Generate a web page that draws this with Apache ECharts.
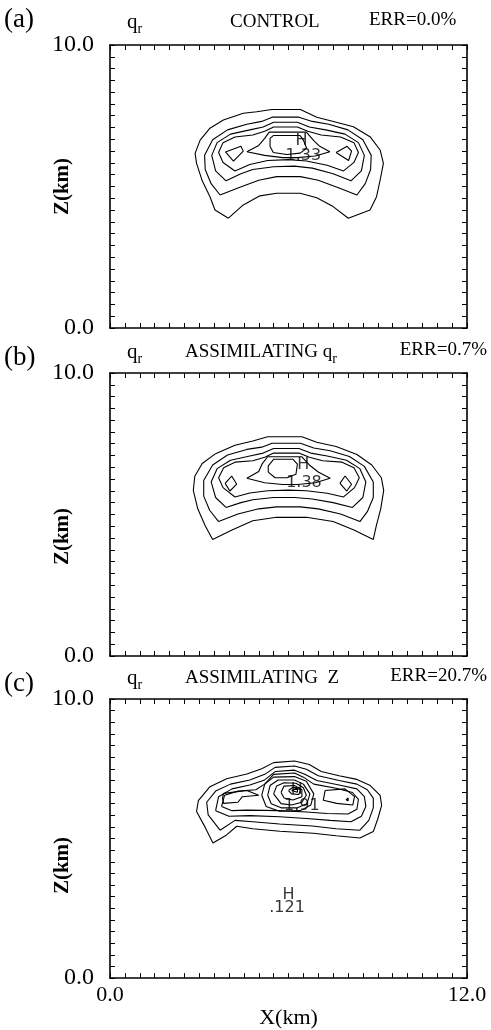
<!DOCTYPE html>
<html><head><meta charset="utf-8">
<script src="https://cdn.jsdelivr.net/npm/echarts@6/dist/echarts.min.js"></script>
<style>html,body{margin:0;padding:0;background:#fff}#c{width:491px;height:1030px}</style>
</head><body><div id="c"></div>
<script>
// ---------- data (x in km, z in km) ----------
const X_RANGE = [0, 12];
const Z_RANGE = [0, 10];
const X_TICK_STEP = 0.5;
const Z_TICK_STEP = 10 / 24;
const X_TICK_LABELS = ['0.0', '12.0'];
const Z_TICK_LABELS = ['0.0', '10.0'];

const PANEL_LETTERS = ['(a)', '(b)', '(c)'];
const PANEL_TITLES = ['CONTROL', 'ASSIMILATING q', 'ASSIMILATING  Z'];
const PANEL_TITLE_SUB = ['', 'r', ''];
const PANEL_ERR = ['ERR=0.0%', 'ERR=0.7%', 'ERR=20.7%'];

// Panel (a) CONTROL contours
const A_C1 = [[3.98,3.88],[3.53,4.17],[3.36,4.64],[3.1,5.2],[2.91,5.82],[2.86,6.17],[3.03,6.64],[3.36,7.06],[3.81,7.35],[4.48,7.59],[4.93,7.64],[5.44,7.72],[6.4,7.72],[6.95,7.45],[7.51,7.3],[8.18,7.11],[8.74,6.76],[9.08,6.29],[9.19,5.82],[9.08,5.23],[8.96,4.64],[8.74,4.17],[8.01,3.88],[7.5,4.29],[6.95,4.6],[6.39,4.76],[5.6,4.76],[5.04,4.67],[4.48,4.35],[3.98,3.88]];
const A_C2 = [[3.7,4.7],[3.4,5.1],[3.2,5.6],[3.18,6.1],[3.45,6.65],[3.95,7.0],[4.6,7.2],[5.1,7.3],[5.45,7.45],[6.35,7.45],[6.8,7.3],[7.35,7.2],[8.0,7.0],[8.5,6.65],[8.78,6.1],[8.76,5.6],[8.58,5.1],[8.3,4.7],[7.7,4.95],[7.0,5.22],[6.4,5.35],[5.6,5.35],[5.0,5.22],[4.3,4.95],[3.7,4.7]];
const A_C3 = [[3.9,5.2],[3.55,5.55],[3.42,6.1],[3.6,6.55],[4.05,6.85],[4.7,7.0],[5.15,7.1],[5.5,7.27],[6.3,7.27],[6.7,7.1],[7.25,7.0],[7.9,6.85],[8.35,6.55],[8.55,6.1],[8.45,5.55],[8.1,5.2],[7.5,5.45],[6.8,5.65],[6.2,5.72],[5.5,5.7],[4.8,5.6],[4.4,5.45],[3.9,5.2]];
const A_C4 = [[4.2,5.55],[3.8,5.85],[3.65,6.2],[3.8,6.55],[4.2,6.75],[4.8,6.82],[5.2,6.95],[5.5,7.1],[6.3,7.1],[6.65,6.95],[7.1,6.82],[7.75,6.75],[8.2,6.55],[8.35,6.2],[8.2,5.85],[7.85,5.55],[7.3,5.75],[6.6,5.9],[6.0,5.95],[5.3,5.92],[4.7,5.78],[4.2,5.55]];
const A_LENS = [[4.6,6.23],[5.0,6.45],[5.2,6.7],[5.35,6.92],[6.6,6.92],[6.85,6.62],[7.05,6.42],[7.39,6.23],[6.9,6.08],[6.3,6.02],[5.8,6.02],[5.2,6.1],[4.6,6.23]];
const A_BOX = [[5.38,6.41],[5.38,6.7],[5.49,6.8],[6.39,6.8],[6.5,6.64],[6.61,6.35],[6.39,6.18],[5.94,6.13],[5.49,6.2],[5.38,6.41]];
const A_DL = [[3.88,6.22],[4.4,6.42],[4.48,6.25],[4.15,5.9],[3.88,6.22]];
const A_DR = [[7.6,6.2],[7.97,6.42],[8.12,6.25],[8.02,5.92],[7.6,6.2]];
const A_LABELS = [[6.44, 6.6, 'H'], [6.5, 6.1, '1.33']];

// Panel (b) ASSIMILATING qr contours
const B_C1 = [[3.45,4.12],[3.2,4.6],[2.95,5.2],[2.8,5.85],[2.85,6.35],[3.1,6.8],[3.55,7.15],[4.2,7.45],[4.8,7.6],[5.3,7.75],[6.45,7.75],[6.95,7.55],[7.6,7.4],[8.3,7.12],[8.8,6.75],[9.12,6.3],[9.2,5.85],[9.1,5.2],[8.95,4.6],[8.85,4.12],[8.2,4.45],[7.5,4.75],[6.6,4.9],[5.6,4.9],[4.8,4.78],[4.1,4.45],[3.45,4.12]];
const B_C2 = [[3.65,4.75],[3.35,5.15],[3.15,5.65],[3.15,6.2],[3.45,6.75],[3.95,7.1],[4.6,7.3],[5.1,7.38],[5.45,7.52],[6.4,7.52],[6.85,7.35],[7.4,7.25],[8.05,7.05],[8.55,6.7],[8.85,6.15],[8.85,5.6],[8.65,5.1],[8.4,4.75],[7.75,5.02],[7.0,5.2],[6.4,5.27],[5.6,5.27],[5.0,5.2],[4.3,5.02],[3.65,4.75]];
const B_C3 = [[3.9,5.25],[3.55,5.6],[3.4,6.15],[3.6,6.62],[4.05,6.92],[4.7,7.07],[5.15,7.17],[5.5,7.33],[6.35,7.33],[6.75,7.17],[7.3,7.07],[7.95,6.92],[8.4,6.62],[8.6,6.15],[8.5,5.6],[8.15,5.25],[7.5,5.42],[6.8,5.55],[6.2,5.6],[5.5,5.6],[4.8,5.52],[4.4,5.42],[3.9,5.25]];
const B_C4 = [[4.2,5.62],[3.8,5.95],[3.65,6.3],[3.82,6.65],[4.2,6.85],[4.8,6.9],[5.2,7.02],[5.5,7.17],[6.35,7.17],[6.7,7.02],[7.15,6.9],[7.8,6.85],[8.2,6.65],[8.38,6.3],[8.22,5.95],[7.85,5.62],[7.3,5.75],[6.6,5.84],[6.0,5.86],[5.3,5.84],[4.7,5.76],[4.2,5.62]];
const B_LENS = [[4.6,6.28],[5.0,6.52],[5.12,6.8],[5.3,7.04],[6.45,7.04],[6.7,6.75],[7.0,6.5],[7.4,6.28],[6.9,6.12],[6.3,6.06],[5.8,6.06],[5.2,6.12],[4.6,6.28]];
const B_BOX = [[5.32,6.5],[5.32,6.72],[5.5,6.95],[6.15,6.95],[6.3,6.78],[6.25,6.42],[5.95,6.3],[5.55,6.3],[5.32,6.5]];
const B_DL = [[3.87,6.1],[4.09,6.36],[4.26,6.07],[4.03,5.83],[3.87,6.1]];
const B_DR = [[7.73,6.1],[7.9,6.36],[8.12,6.07],[7.96,5.83],[7.73,6.1]];
const B_LABELS = [[6.5, 6.77, 'H'], [6.52, 6.12, '1.38']];

// Panel (c) ASSIMILATING Z contours
const C_C1 = [[3.46,4.84],[3.2,5.4],[2.91,5.97],[2.97,6.36],[3.36,6.86],[3.92,7.14],[4.6,7.31],[5.1,7.5],[5.5,7.72],[6.2,7.78],[6.7,7.65],[7.1,7.4],[7.7,7.25],[8.3,7.12],[8.75,6.9],[9.08,6.55],[9.13,6.19],[9.0,5.7],[8.85,5.25],[8.4,5.02],[7.6,5.1],[6.83,5.19],[5.71,5.26],[4.8,5.35],[4.26,5.44],[3.92,5.13],[3.46,4.84]];
const C_C2 = [[3.7,5.3],[3.3,5.85],[3.25,6.3],[3.55,6.7],[4.05,6.95],[4.7,7.1],[5.2,7.3],[5.55,7.55],[6.2,7.6],[6.6,7.48],[7.0,7.25],[7.7,7.08],[8.3,6.95],[8.65,6.75],[8.85,6.45],[8.85,6.1],[8.7,5.65],[8.4,5.3],[7.6,5.35],[6.8,5.45],[5.7,5.52],[4.8,5.6],[4.2,5.65],[3.7,5.3]];
const C_C3 = [[3.55,6.0],[3.65,6.5],[4.1,6.78],[4.7,6.92],[5.2,7.1],[5.55,7.4],[6.2,7.45],[6.55,7.3],[6.95,7.08],[7.7,6.92],[8.3,6.78],[8.55,6.5],[8.6,6.15],[8.45,5.8],[8.1,5.6],[7.4,5.65],[6.6,5.72],[5.7,5.78],[4.7,5.82],[4.0,5.8],[3.55,6.0]];
const C_C4 = [[3.75,6.15],[3.85,6.55],[4.3,6.7],[4.9,6.75],[5.2,6.95],[5.5,7.3],[6.2,7.35],[6.5,7.2],[6.85,6.95],[7.6,6.8],[8.15,6.65],[8.35,6.4],[8.3,6.05],[8.0,5.88],[7.3,5.9],[6.6,5.95],[5.7,6.0],[4.6,6.02],[4.1,6.0],[3.75,6.15]];
const C_LEFT = [[3.82,6.62],[4.6,6.72],[5.0,6.55],[4.45,6.5],[4.3,6.3],[3.82,6.26],[3.78,6.45],[3.82,6.62]];
const C_RIGHT = [[7.23,6.72],[7.9,6.78],[8.22,6.5],[8.16,6.2],[7.62,6.26],[7.17,6.37],[7.23,6.72]];
const C_DOT = [[7.93,6.38],[8.0,6.46],[8.01,6.36],[7.93,6.38]];
const C_L1 = [[5.1,6.55],[5.2,6.95],[5.5,7.2],[6.2,7.22],[6.6,7.05],[6.85,6.6],[6.75,6.2],[6.4,6.0],[5.7,5.98],[5.25,6.15],[5.1,6.55]];
const C_L2 = [[5.3,6.55],[5.38,6.9],[5.65,7.1],[6.2,7.1],[6.5,6.95],[6.72,6.6],[6.62,6.25],[6.3,6.1],[5.75,6.1],[5.42,6.25],[5.3,6.55]];
const C_L3 = [[5.5,6.6],[5.6,6.88],[5.85,7.0],[6.25,6.98],[6.5,6.82],[6.6,6.55],[6.45,6.3],[6.1,6.2],[5.75,6.25],[5.5,6.6]];
const C_L4 = [[5.75,6.65],[5.85,6.88],[6.2,6.9],[6.45,6.75],[6.45,6.5],[6.15,6.38],[5.85,6.45],[5.75,6.65]];
const C_L5 = [[6.0,6.72],[6.15,6.84],[6.4,6.75],[6.35,6.58],[6.1,6.6],[6.0,6.72]];
const C_L6 = [[6.1,6.72],[6.3,6.8],[6.3,6.66],[6.1,6.72]];
const C_LABELS = [[6.28, 6.76, 'H'], [6.45, 6.17, '1.91'], [6.0, 3.0, 'H'], [5.95, 2.5, '.121']];

const PANEL_CONTOURS = [
  [A_C1, A_C2, A_C3, A_C4, A_LENS, A_BOX, A_DL, A_DR],
  [B_C1, B_C2, B_C3, B_C4, B_LENS, B_BOX, B_DL, B_DR],
  [C_C1, C_C2, C_C3, C_C4, C_LEFT, C_RIGHT, C_DOT, C_L1, C_L2, C_L3, C_L4, C_L5, C_L6]
];
const PANEL_LABELS = [A_LABELS, B_LABELS, C_LABELS];

// ---------- layout / style ----------
const SERIF = 'Liberation Serif';
const SANS = 'DejaVu Sans';
const GRID_TOPS = [45, 373, 699];
const GRID_LEFT = 110, GRID_W = 357, GRID_H = 283;
const TITLE_Y = [20, 350, 676];
const LETTER_Y = [20, 358, 684];
const ZNAME_SHIFT = [0, 22, 25];

const grids = GRID_TOPS.map(t => ({ left: GRID_LEFT, top: t, width: GRID_W, height: GRID_H }));

function near(a, b) { return Math.abs(a - b) < 1e-6; }
const lineBlack = { show: true, onZero: false, lineStyle: { color: '#000', width: 1.6 } };
const tickIn = { show: true, inside: true, length: 5, lineStyle: { color: '#000', width: 1 } };

const xAxis = [], yAxis = [];
grids.forEach((g, i) => {
  const last = i === grids.length - 1;
  xAxis.push({
    type: 'value', gridIndex: i, position: 'bottom', min: X_RANGE[0], max: X_RANGE[1], interval: X_TICK_STEP,
    axisLine: lineBlack, axisTick: tickIn, splitLine: { show: false },
    axisLabel: {
      show: last, showMinLabel: true, showMaxLabel: true, margin: 6,
      fontFamily: SERIF, fontSize: 22, color: '#000',
      formatter: v => near(v, X_RANGE[0]) ? X_TICK_LABELS[0] : (near(v, X_RANGE[1]) ? X_TICK_LABELS[1] : '')
    },
    name: last ? 'X(km)' : '', nameLocation: 'middle', nameGap: 27,
    nameTextStyle: { fontFamily: SERIF, fontSize: 22, color: '#000' }
  });
  xAxis.push({
    type: 'value', gridIndex: i, position: 'top', min: X_RANGE[0], max: X_RANGE[1], interval: X_TICK_STEP,
    axisLine: lineBlack, axisTick: tickIn, splitLine: { show: false }, axisLabel: { show: false }
  });
  yAxis.push({
    type: 'value', gridIndex: i, position: 'left', min: Z_RANGE[0], max: Z_RANGE[1], interval: Z_TICK_STEP,
    axisLine: lineBlack, axisTick: tickIn, splitLine: { show: false },
    axisLabel: {
      show: true, showMinLabel: true, showMaxLabel: true, margin: 16,
      fontFamily: SERIF, fontSize: 24, color: '#000',
      formatter: v => near(v, Z_RANGE[0]) ? Z_TICK_LABELS[0] : (near(v, Z_RANGE[1]) ? Z_TICK_LABELS[1] : '')
    }
  });
  yAxis.push({
    type: 'value', gridIndex: i, position: 'right', min: Z_RANGE[0], max: Z_RANGE[1], interval: Z_TICK_STEP,
    axisLine: lineBlack, axisTick: tickIn, splitLine: { show: false }, axisLabel: { show: false }
  });
});

const series = [];
PANEL_CONTOURS.forEach((list, i) => {
  list.forEach(c => series.push({
    type: 'line', xAxisIndex: 2 * i, yAxisIndex: 2 * i, data: c,
    symbol: 'none', showSymbol: false, silent: true, animation: false,
    lineStyle: { color: '#000', width: 1.1 }
  }));
});
PANEL_LABELS.forEach((labs, i) => {
  series.push({
    type: 'scatter', xAxisIndex: 2 * i, yAxisIndex: 2 * i, data: labs,
    symbolSize: 1, itemStyle: { color: 'rgba(0,0,0,0)' }, silent: true, animation: false,
    label: { show: true, position: 'inside', formatter: p => p.value[2],
      fontFamily: SANS, fontSize: 16, color: '#000' }
  });
});

const graphic = [];
const richQ = {
  q: { fontFamily: SERIF, fontSize: 21, fill: '#000', lineHeight: 28, verticalAlign: 'middle' },
  s: { fontFamily: SERIF, fontSize: 14, fill: '#000', lineHeight: 28, verticalAlign: 'bottom' }
};
function txt(x, y, text, size, align, rich, extra) {
  return Object.assign({ type: 'text', x: x, y: y, silent: true,
    style: { text: text, fontFamily: SERIF, fontSize: size, fill: '#000',
      align: align, textAlign: align, verticalAlign: 'middle', textVerticalAlign: 'middle', rich: rich } }, extra || {});
}
PANEL_LETTERS.forEach((L, i) => {
  graphic.push(txt(4, LETTER_Y[i], L, 27, 'left'));
  graphic.push(txt(127, TITLE_Y[i] + 2, '{q|q}{s|r}', 21, 'left', richQ));
  const title = PANEL_TITLE_SUB[i] ? '{q|' + PANEL_TITLES[i] + '}{s|' + PANEL_TITLE_SUB[i] + '}' : '{q|' + PANEL_TITLES[i] + '}';
  const r19 = { q: Object.assign({}, richQ.q, { fontSize: 19 }), s: richQ.s };
  graphic.push(txt(i === 0 ? 230 : 185, TITLE_Y[i] + 2, title, 19, 'left', r19));
  if (i === 0) graphic.push(txt(369, TITLE_Y[i], PANEL_ERR[i], 19, 'left'));
  else graphic.push(txt(487, TITLE_Y[i], PANEL_ERR[i], 19, 'right'));
  // vertical axis title
  const t = txt(63, GRID_TOPS[i] + GRID_H / 2 + ZNAME_SHIFT[i], 'Z(km)', 21, 'center', null, { rotation: Math.PI / 2 });
  t.style.fontWeight = 'bold';
  graphic.push(t);
});

const chart = echarts.init(document.getElementById('c'), null, { renderer: 'canvas' });
chart.setOption({
  backgroundColor: '#fff', animation: false,
  grid: grids, xAxis: xAxis, yAxis: yAxis, series: series, graphic: graphic
});
</script></body></html>
